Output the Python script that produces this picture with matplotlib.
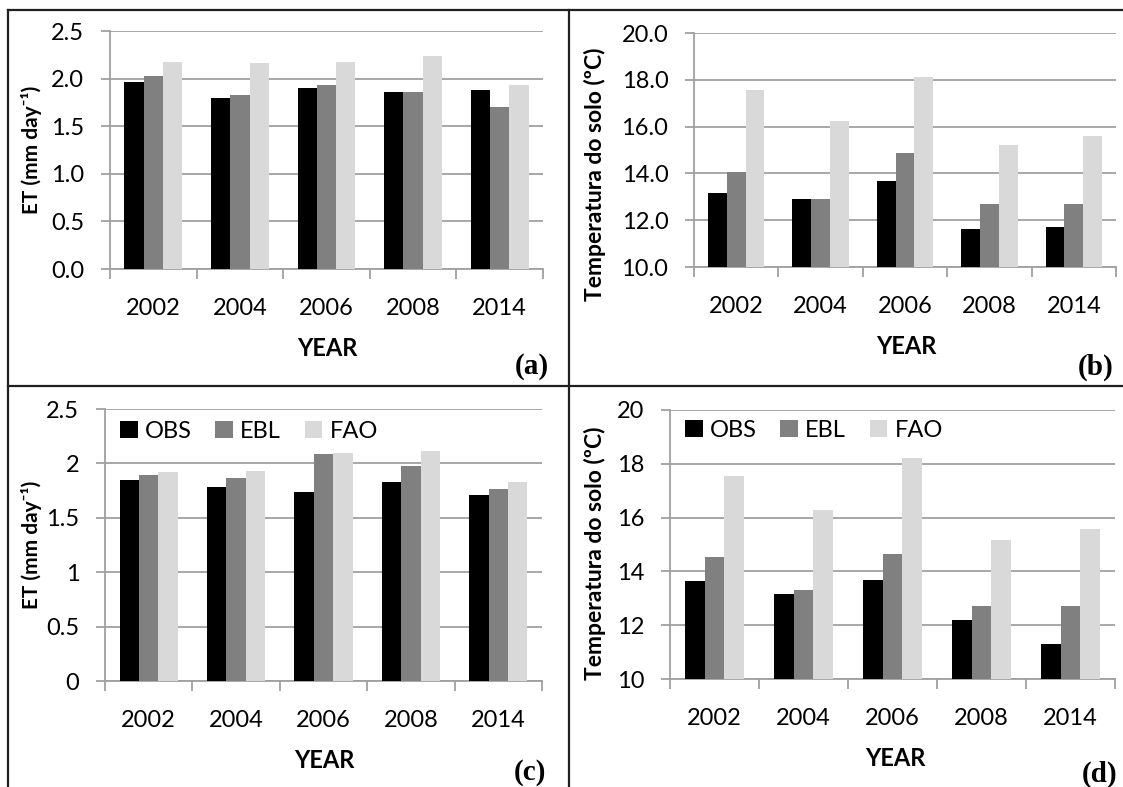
import matplotlib
matplotlib.use("Agg")
import matplotlib.pyplot as plt
from matplotlib.lines import Line2D
from matplotlib.ticker import FixedLocator, FormatStrFormatter
import numpy as np

years = ["2002", "2004", "2006", "2008", "2014"]
series = ["OBS", "EBL", "FAO"]

et_a_obs = [1.96, 1.80, 1.905, 1.856, 1.884]
et_a_ebl = [2.03, 1.824, 1.93, 1.863, 1.705]
et_a_fao = [2.17, 2.164, 2.17, 2.24, 1.933]

ts_b_obs = [13.16, 12.89, 13.66, 11.61, 11.71]
ts_b_ebl = [14.04, 12.91, 14.86, 12.71, 12.69]
ts_b_fao = [17.56, 16.24, 18.11, 15.20, 15.59]

et_c_obs = [1.847, 1.785, 1.736, 1.831, 1.705]
et_c_ebl = [1.89, 1.868, 2.089, 1.972, 1.764]
et_c_fao = [1.92, 1.93, 2.10, 2.11, 1.83]

ts_d_obs = [13.64, 13.16, 13.69, 12.19, 11.30]
ts_d_ebl = [14.54, 13.31, 14.65, 12.71, 12.71]
ts_d_fao = [17.53, 16.29, 18.20, 15.15, 15.59]

colors = ["#000000", "#808080", "#D9D9D9"]
FONT = "Lato"
plt.rcParams['font.family'] = [FONT, 'DejaVu Sans']

W, H = 1123, 787
fig = plt.figure(figsize=(W / 100, H / 100), dpi=100)

def rect(l, r, t, b):
    return [l / W, 1 - b / H, (r - l) / W, (b - t) / H]

GRID = "#A0A0A0"

def panel(box, data, ymin, ymax, step, fmt, ylabel, ylabel_xy, ylabel_size, letter,
          letter_xy, year_xy, legend=None):
    ax = fig.add_axes(rect(*box))
    x = np.arange(len(years))
    bw = 1 / 4.5
    for i, (vals, c) in enumerate(zip(data, colors)):
        ax.bar(x + (i - 1) * bw, np.array(vals) - ymin, bottom=ymin, width=bw,
               color=c, label=series[i], linewidth=0, zorder=3)
    ax.set_xlim(-0.5, len(years) - 0.5)
    ax.set_ylim(ymin, ymax)
    ticks = np.arange(ymin, ymax + step / 2, step)
    ax.set_yticks(ticks)
    if fmt == "g":
        ax.set_yticklabels(["%g" % t for t in ticks])
    else:
        ax.yaxis.set_major_formatter(FormatStrFormatter(fmt))
    ax.grid(axis="y", color=GRID, linewidth=1.3, zorder=0)
    ax.set_axisbelow(True)
    for s in ["top", "right"]:
        ax.spines[s].set_visible(False)
    for s in ["left", "bottom"]:
        ax.spines[s].set_color(GRID)
        ax.spines[s].set_linewidth(1.3)
    ax.set_xticks(x)
    ax.set_xticklabels(years)
    ax.xaxis.set_minor_locator(FixedLocator(np.arange(-0.5, len(years), 1.0)))
    ax.tick_params(axis="x", which="major", length=0, pad=21, labelsize=17, colors="#000000")
    ax.tick_params(axis="x", which="minor", length=7.5, width=1.3, color=GRID, direction="out")
    ax.tick_params(axis="y", which="major", length=6.5, width=1.3, color=GRID, pad=12,
                   labelsize=17, labelcolor="#000000", direction="out")
    fig.text(ylabel_xy[0] / W, 1 - ylabel_xy[1] / H, ylabel, rotation=90,
             ha="center", va="center", fontsize=ylabel_size, fontweight="bold")
    fig.text(year_xy[0] / W, 1 - year_xy[1] / H, "YEAR", ha="center", va="center",
             fontsize=17, fontweight="bold")
    fig.text(letter_xy[0] / W, 1 - letter_xy[1] / H, letter, ha="center", va="center",
             fontsize=21, fontweight="bold", family="Liberation Serif")
    if legend is not None:
        ax.legend(loc="upper left", bbox_to_anchor=legend, bbox_transform=fig.transFigure,
                  ncol=3, frameon=False, fontsize=17, handlelength=0.75, handleheight=0.75,
                  handletextpad=0.3, columnspacing=1.0, borderaxespad=0, borderpad=0)
    return ax

ET_LABEL = "ET (mm day⁻¹)"
TS_LABEL = "Temperatura do solo (ºC)"

panel((110, 543, 31, 269), [et_a_obs, et_a_ebl, et_a_fao], 0.0, 2.5, 0.5, "%.1f",
      ET_LABEL, (31, 150), 15, "(a)", (532, 367), (327, 349))
panel((694, 1116, 33, 267), [ts_b_obs, ts_b_ebl, ts_b_fao], 10.0, 20.0, 2.0, "%.1f",
      TS_LABEL, (595, 174), 16.5, "(b)", (1096, 367), (906, 347))
panel((105, 542, 409, 681), [et_c_obs, et_c_ebl, et_c_fao], 0.0, 2.5, 0.5, "g",
      ET_LABEL, (31, 545), 15, "(c)", (530, 772), (324, 760),
      legend=(120 / W, 1 - 421 / H))
panel((670, 1115, 410, 679), [ts_d_obs, ts_d_ebl, ts_d_fao], 10.0, 20.0, 2.0, "g",
      TS_LABEL, (595, 553), 16.5, "(d)", (1100, 774), (895, 758),
      legend=(685 / W, 1 - 420 / H))

# panel frames
def fline(xs, ys):
    fig.add_artist(Line2D([v / W for v in xs], [1 - v / H for v in ys],
                          color="#202020", linewidth=1.6))

fline([8, 1123], [10, 10])
fline([8, 8], [10, 787])
fline([569, 569], [10, 787])
fline([8, 1123], [386, 386])

fig.savefig("out.png", dpi=100)
